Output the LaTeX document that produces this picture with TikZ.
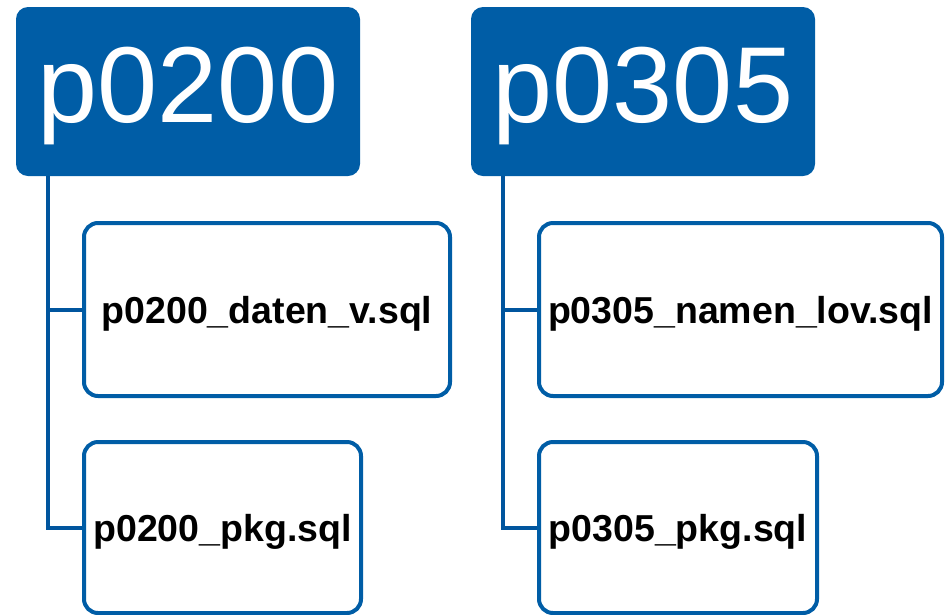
\documentclass[tikz,border=0pt]{standalone}
\usepackage{fontspec}
\setmainfont{Liberation Sans}
\usepackage{xcolor}
\definecolor{hdblue}{HTML}{005DA6}
\definecolor{lnblue}{HTML}{00559E}

\begin{document}
\begin{tikzpicture}[x=1pt,y=-1pt,
  head/.style={fill=hdblue,rounded corners=12pt,text=white,inner sep=0pt,
    text depth=14pt,font=\fontsize{108}{108}\selectfont},
  file/.style={draw=hdblue,line width=4pt,fill=white,rounded corners=14pt,
    inner sep=0pt,text depth=0pt,font=\fontsize{37.5}{37.5}\selectfont\bfseries},
  conn/.style={draw=lnblue,line width=4pt}]
\useasboundingbox (0,0) rectangle (949,614);

\node [head,minimum width=344pt,minimum height=169pt] (p0200) at (188,91.5) {p0200};
\node [head,minimum width=344pt,minimum height=169pt] (p0305) at (643,91.5) {p0305};

\node [file,minimum width=366pt,minimum height=173pt] (datenv) at (267,309.5) {p0200\_daten\_v.sql};
\node [file,minimum width=277pt,minimum height=171pt] (pkga) at (222.5,527.5) {p0200\_pkg.sql};
\node [file,minimum width=403pt,minimum height=173pt] (namenlov) at (740.5,309.5) {p0305\_namen\_lov.sql};
\node [file,minimum width=278pt,minimum height=171pt] (pkgb) at (678,527.5) {p0305\_pkg.sql};

\draw [conn] ([xshift=32pt]p0200.south west) |- (datenv.west);
\draw [conn] ([xshift=32pt]p0200.south west) |- (pkga.west);
\draw [conn] ([xshift=32pt]p0305.south west) |- (namenlov.west);
\draw [conn] ([xshift=32pt]p0305.south west) |- (pkgb.west);

%\draw (p0200.south) node [below] {};
\end{tikzpicture}
\end{document}
